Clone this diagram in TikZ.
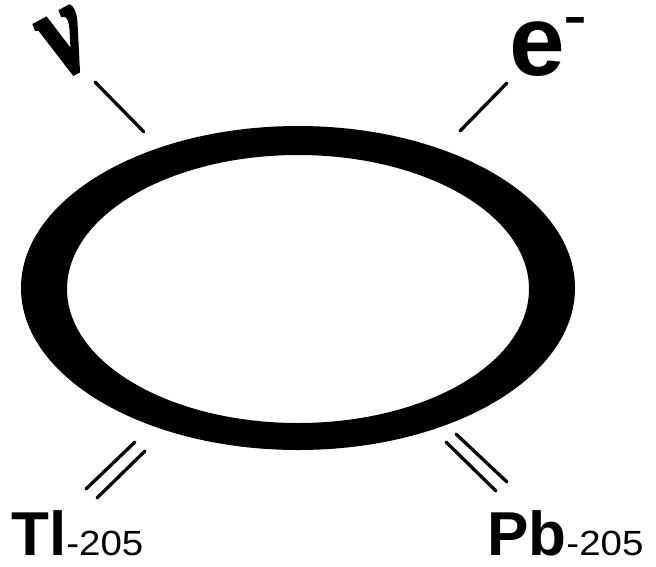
\documentclass[tikz,border=0pt]{standalone}
\usepackage{fontspec}
\setmainfont{Liberation Sans}
\newfontface\nufont[FakeBold=3]{Liberation Serif Bold Italic}
\newcommand{\isotail}{\fontsize{35}{35}\selectfont\mdseries\scalebox{1.1}[1]{-205}}
\tikzset{
  tick/.style={line width=3.3pt, line cap=round},
  biglabel/.style={inner sep=0pt, anchor=base west, font=\fontsize{62}{62}\selectfont\bfseries},
  ring/.style={fill=black, even odd rule}
}
\begin{document}
\begin{tikzpicture}[x=1pt, y=-1pt]
\useasboundingbox (0,0) rectangle (656,566);
% ring
\fill[ring] (298,288) ellipse[x radius=277pt, y radius=162pt]
            (298,289) ellipse[x radius=231pt, y radius=134pt];
% labels
\node[inner sep=0pt, rotate=28] (nu) at (66,43) {\resizebox{42pt}{60pt}{\nufont ν}};
\node[inner sep=0pt, anchor=base west] (em) at (509,75)
  {\fontsize{100}{100}\selectfont\bfseries e\kern-1pt\raisebox{36pt}{\fontsize{72}{72}\selectfont\mdseries -}};
\node[biglabel] (tl) at (11,555) {Tl\isotail};
\node[biglabel] (pb) at (487,555) {Pb\isotail};
% line ends
\coordinate (nua) at (95,82);   \coordinate (nub) at (144,132);
\coordinate (ea) at (507,83);   \coordinate (eb) at (460,131);
\coordinate (tla1) at (135,442); \coordinate (tlb1) at (86,489);
\coordinate (tla2) at (145,451); \coordinate (tlb2) at (97,498);
\coordinate (pba1) at (446,442); \coordinate (pbb1) at (496,491);
\coordinate (pba2) at (456,434); \coordinate (pbb2) at (507,482);
\draw[tick] (nua) -- (nub);
\draw[tick] (ea) -- (eb);
\draw[tick] (tla1) -- (tlb1);
\draw[tick] (tla2) -- (tlb2);
\draw[tick] (pba1) -- (pbb1);
\draw[tick] (pba2) -- (pbb2);
\end{tikzpicture}
\end{document}
